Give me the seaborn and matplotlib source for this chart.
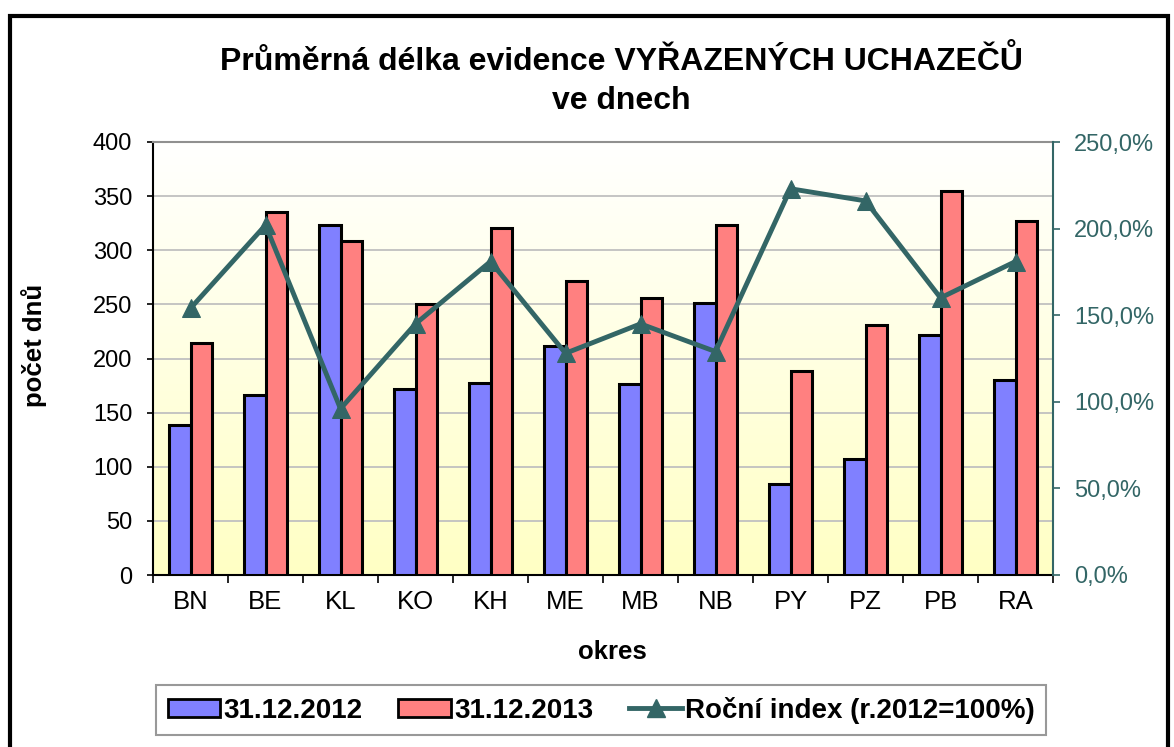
import numpy as np
import pandas as pd
import matplotlib
matplotlib.use("Agg")
import matplotlib.pyplot as plt
import seaborn as sns
from matplotlib.patches import Patch, Rectangle
from matplotlib.lines import Line2D
from matplotlib.colors import LinearSegmentedColormap
from matplotlib.ticker import FuncFormatter, MultipleLocator, FixedLocator

okresy = ['BN', 'BE', 'KL', 'KO', 'KH', 'ME', 'MB', 'NB', 'PY', 'PZ', 'PB', 'RA']
dny_2012 = [139, 166, 323, 172, 177, 212, 176, 251, 84, 107, 222, 180]
dny_2013 = [214, 335, 309, 250, 321, 272, 256, 323, 188, 231, 355, 327]
index = [154, 202, 96, 145, 181, 128, 145, 129, 223, 216, 160, 181]
serie = ['31.12.2012', '31.12.2013']
nazev_indexu = 'Roční index (r.2012=100%)'

plt.rcParams['font.family'] = ['Liberation Sans', 'DejaVu Sans']

modra = '#8080FF'
cervena = '#FF8080'
tmava = '#336666'

df = pd.concat([
    pd.DataFrame({'okres': okresy, 'dny': dny_2012, 'rok': serie[0]}),
    pd.DataFrame({'okres': okresy, 'dny': dny_2013, 'rok': serie[1]}),
], ignore_index=True)

fig = plt.figure(figsize=(11.74, 7.47), dpi=100)
ax = fig.add_axes([153 / 1174, 172 / 747, 900 / 1174, 433 / 747])

# gradient background of the plot area
cmap = LinearSegmentedColormap.from_list('bg', ['#FFFFC4', '#FFFFFF'])
ax.imshow(np.linspace(0, 1, 256).reshape(-1, 1)[::-1], aspect='auto', cmap=cmap,
          extent=[0, 1, 0, 1], transform=ax.transAxes, zorder=0)

sns.barplot(ax=ax, data=df, x='okres', y='dny', hue='rok', palette=[modra, cervena],
            edgecolor='black', linewidth=2.2, width=0.575, saturation=1, legend=False, zorder=3)

ax.set_xlim(-0.5, len(okresy) - 0.5)
ax.set_ylim(0, 400)
ax.yaxis.set_major_locator(MultipleLocator(50))
ax.grid(axis='y', color='#C0C0C0', lw=1.3, zorder=1)
ax.set_axisbelow(True)
ax.tick_params(axis='y', labelsize=17, length=4, width=1.2, pad=11)
ax.tick_params(axis='x', which='major', labelsize=18.5, length=0, pad=11)
ax.xaxis.set_minor_locator(FixedLocator(np.arange(-0.5, len(okresy), 1)))
ax.tick_params(axis='x', which='minor', length=6, width=1.2)
ax.set_xlabel('okres', fontsize=18.5, fontweight='bold')
ax.set_ylabel('počet dnů', fontsize=18.5, fontweight='bold')
ax.xaxis.set_label_coords(0.51, -0.15)
ax.yaxis.set_label_coords(-0.118, 0.531)
for s in ['left', 'bottom']:
    ax.spines[s].set_linewidth(1.5)
ax.spines['top'].set_color('#909090')
ax.spines['top'].set_linewidth(1.5)
ax.spines['right'].set_visible(False)

ax2 = ax.twinx()
sns.lineplot(ax=ax2, x=np.arange(len(okresy)), y=index, color=tmava, lw=3.5,
             marker='^', markersize=13, markeredgecolor=tmava, zorder=5)
ax2.set_ylim(0, 250)
ax2.yaxis.set_major_locator(MultipleLocator(50))
ax2.yaxis.set_major_formatter(FuncFormatter(lambda v, p: f'{v:.1f}'.replace('.', ',') + '%'))
ax2.tick_params(axis='y', labelsize=17, colors=tmava, length=5, width=1.2, pad=10)
ax2.spines['right'].set_color(tmava)
ax2.spines['right'].set_linewidth(1.5)
for s in ['left', 'top', 'bottom']:
    ax2.spines[s].set_visible(False)
ax2.set_xlim(-0.5, len(okresy) - 0.5)

fig.text(621 / 1174, 1 - 62 / 747, 'Průměrná délka evidence VYŘAZENÝCH UCHAZEČŮ',
         ha='center', va='center', fontsize=23, fontweight='bold')
fig.text(621 / 1174, 1 - 101 / 747, 've dnech',
         ha='center', va='center', fontsize=23, fontweight='bold')

handles = [Patch(facecolor=modra, edgecolor='black', lw=2),
           Patch(facecolor=cervena, edgecolor='black', lw=2),
           Line2D([], [], color=tmava, lw=3.5, marker='^', markersize=13)]
leg = fig.legend(handles, serie + [nazev_indexu], loc='center', ncol=3,
                 bbox_to_anchor=(601 / 1174, 1 - 710 / 747),
                 prop={'size': 20, 'weight': 'bold'}, frameon=True, fancybox=False,
                 edgecolor='#808080', handlelength=1.9, handleheight=0.6,
                 handletextpad=0.1, columnspacing=1.3, borderpad=0.4)
leg.get_frame().set_linewidth(1.5)

fig.patches.append(Rectangle((10 / 1174, -0.05), 1158 / 1174, 1.05 - 16 / 747,
                             transform=fig.transFigure, fill=False, edgecolor='black', lw=3))

fig.savefig('out.png', dpi=100)
